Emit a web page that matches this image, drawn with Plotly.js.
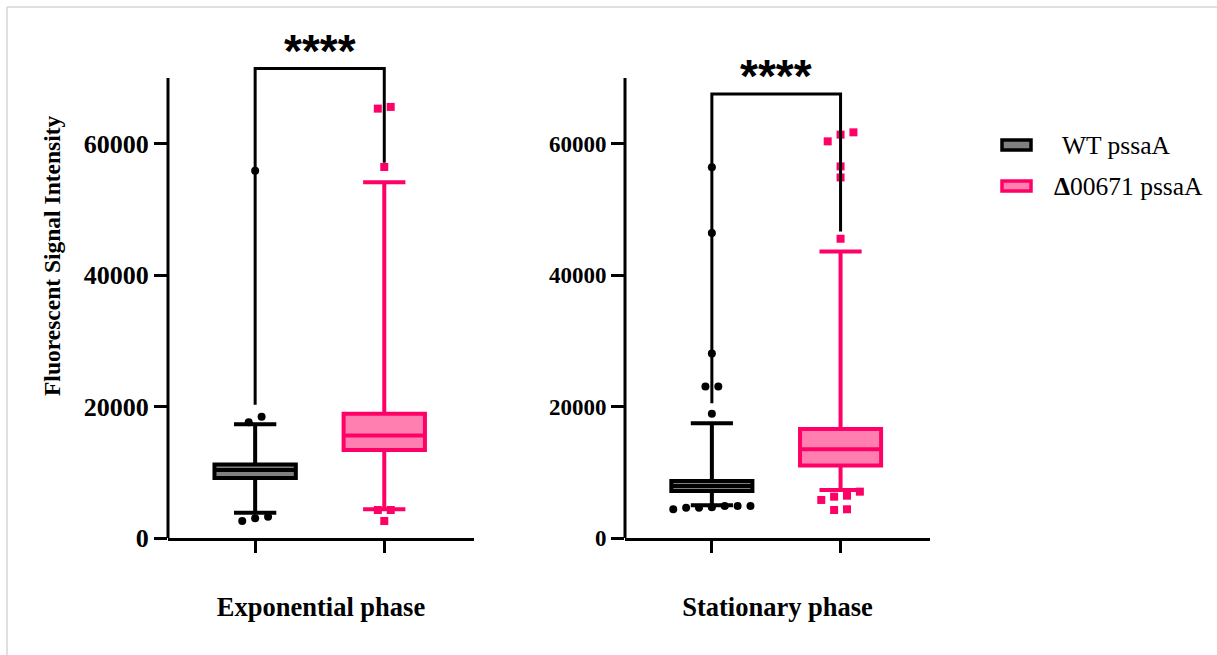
<!DOCTYPE html>
<html>
<head>
<meta charset="utf-8">
<script src="https://cdn.plot.ly/plotly-3.0.1.min.js"></script>
<style>html,body{margin:0;padding:0;background:#fff;}#chart{width:1217px;height:655px;}</style>
</head>
<body>
<div id="chart"></div>
<script>
// ---------- data ----------
const phases = ['Exponential phase', 'Stationary phase'];
const seriesNames = ['WT pssaA', 'Δ00671 pssaA'];
const seriesX = [0, 1];

// box statistics per phase: [WT, mutant]
const q1Exp = [9140, 13400];
const medianExp = [10360, 15580];
const q3Exp = [11190, 18890];
const lowerExp = [3850, 4370];
const upperExp = [17300, 54150];

const q1Stat = [7160, 11040];
const medianStat = [7900, 13510];
const q3Stat = [8680, 16600];
const lowerStat = [4980, 7310];
const upperStat = [17470, 43600];

// outliers
const outExpWT = [55900, 18470, 17600, 2590, 3240, 3000];
const outExpMut = [65340, 65600, 56460, 4260, 4260, 2590];
const outStatWT = [56400, 46400, 28070, 23040, 23040, 18890, 4680, 4870, 4620, 4870, 4370, 4870, 4620];
const outStatMut = [61380, 61730, 60360, 56550, 54870, 45540, 6290, 5790, 6440, 7050, 4260, 4370];

// significance brackets: [top, WT leg bottom, mutant leg bottom]
const bracketExp = [71430, 20260, 57100];
const bracketStat = [67580, 20510, 46650];
const sigLabel = '****';

// ---------- styles ----------
const lineCols = ['#000000', '#FF0066'];
const fillCols = ['#808080', '#FF80B0'];
const symbols = ['circle', 'square'];
const serif = 'Liberation Serif, Times New Roman, serif';

// simple beeswarm: points closer than `gap` (data units) share a row and are spread sideways
function swarm(values, centre, gap, step) {
  const idx = values.map((v, i) => i).sort((a, b) => values[a] - values[b]);
  const xs = new Array(values.length);
  let group = [];
  const flush = () => {
    const n = group.length;
    group.forEach((gi, j) => { xs[gi] = centre + (j - (n - 1) / 2) * step; });
    group = [];
  };
  idx.forEach((i, j) => {
    if (group.length && values[i] - values[group[group.length - 1]] > gap) flush();
    group.push(i);
  });
  flush();
  return xs;
}

const stats = [
  {q1: q1Exp, med: medianExp, q3: q3Exp, lo: lowerExp, hi: upperExp, out: [outExpWT, outExpMut], br: bracketExp},
  {q1: q1Stat, med: medianStat, q3: q3Stat, lo: lowerStat, hi: upperStat, out: [outStatWT, outStatMut], br: bracketStat}
];

const traces = [];
const shapes = [];
const annotations = [];

stats.forEach((s, p) => {
  const xa = p === 0 ? 'x' : 'x2';
  const ya = p === 0 ? 'y' : 'y2';
  for (let k = 0; k < 2; k++) {
    traces.push({
      type: 'box', xaxis: xa, yaxis: ya, name: seriesNames[k], showlegend: false,
      x: [seriesX[k]], q1: [s.q1[k]], median: [s.med[k]], q3: [s.q3[k]],
      lowerfence: [s.lo[k]], upperfence: [s.hi[k]],
      width: 0.63, whiskerwidth: 0.52, boxpoints: false,
      fillcolor: fillCols[k], line: {color: lineCols[k], width: 4}
    });
    traces.push({
      type: 'scatter', mode: 'markers', xaxis: xa, yaxis: ya, name: seriesNames[k] + ' outliers',
      showlegend: false, cliponaxis: false,
      x: swarm(s.out[k], seriesX[k], 1200, 0.1), y: s.out[k],
      marker: {color: lineCols[k], symbol: symbols[k], size: 8, line: {width: 0}}
    });
  }
  // y axis line (stops at 70000 like the reference)
  shapes.push({type: 'line', xref: xa + ' domain', x0: 0, x1: 0, yref: ya, y0: 0, y1: 70000,
    line: {color: '#000', width: 3}});
  // bracket
  shapes.push({type: 'path', xref: xa, yref: ya,
    path: `M ${seriesX[0]},${s.br[1]} L ${seriesX[0]},${s.br[0]} L ${seriesX[1]},${s.br[0]} L ${seriesX[1]},${s.br[2]}`,
    line: {color: '#000', width: 3}});
  annotations.push({xref: xa, yref: ya, x: (seriesX[0] + seriesX[1]) / 2, y: s.br[0], yshift: -10,
    text: sigLabel, showarrow: false, xanchor: 'center', yanchor: 'bottom',
    font: {family: 'Liberation Sans, Arial, sans-serif', size: 46, weight: 'bold', color: '#000'}});
});

// manual legend
const W = 1217, T = 32, B = 538, PH = B - T;
const py = px => (B - px) / PH;
const legendRows = [145, 186];
legendRows.forEach((row, k) => {
  shapes.push({type: 'rect', xref: 'paper', yref: 'paper',
    x0: 1002 / W, x1: 1031 / W, y0: py(row + 5), y1: py(row - 5),
    fillcolor: fillCols[k], line: {color: lineCols[k], width: 3.5}});
});
annotations.push({xref: 'paper', yref: 'paper', x: 1060 / W, y: py(145), xanchor: 'left', yanchor: 'middle',
  text: seriesNames[0], showarrow: false, font: {family: serif, size: 25.5, color: '#000'}});
annotations.push({xref: 'paper', yref: 'paper', x: 1052 / W, y: py(186), xanchor: 'left', yanchor: 'middle',
  text: '<b>Δ</b>' + seriesNames[1].slice(1), showarrow: false, font: {family: serif, size: 25.5, color: '#000'}});

// y title
annotations.push({xref: 'paper', yref: 'paper', x: 52 / W, y: py(256), xanchor: 'center', yanchor: 'middle',
  text: 'Fluorescent Signal Intensity', textangle: -90, showarrow: false,
  font: {family: serif, size: 23.5, weight: 'bold', color: '#000'}});

// frame lines
shapes.push({type: 'line', xref: 'paper', yref: 'paper', x0: 7 / W, x1: 7 / W, y0: py(7), y1: py(655),
  line: {color: '#d6d6d6', width: 1.5}});
shapes.push({type: 'line', xref: 'paper', yref: 'paper', x0: 7 / W, x1: 1, y0: py(7), y1: py(7),
  line: {color: '#d6d6d6', width: 1.5}});

function xAxis(domain, title) {
  return {domain: domain, range: [-0.675, 1.695], showline: true, linecolor: '#000', linewidth: 3,
    ticks: 'outside', tickvals: seriesX, ticklen: 12, tickwidth: 3, tickcolor: '#000',
    showticklabels: false, showgrid: false, zeroline: false, fixedrange: true,
    title: {text: title, standoff: 46, font: {family: serif, size: 26.5, weight: 'bold', color: '#000'}}};
}
function yAxis(anchor, size) {
  return {anchor: anchor, range: [0, 77000], showline: false, ticks: 'outside',
    tickvals: [0, 20000, 40000, 60000], ticktext: ['0', '20000', '40000', '60000'],
    ticklen: 13, tickwidth: 3, tickcolor: '#000', showgrid: false, zeroline: false,
    tickfont: {family: serif, size: size, weight: 'bold', color: '#000'}, fixedrange: true};
}

const layout = {
  width: 1217, height: 655,
  margin: {l: 0, r: 0, t: T, b: 655 - B},
  paper_bgcolor: '#fff', plot_bgcolor: 'rgba(0,0,0,0)',
  showlegend: false,
  xaxis: Object.assign(xAxis([168 / W, 474 / W], phases[0]), {anchor: 'y'}),
  yaxis: yAxis('x', 26),
  xaxis2: Object.assign(xAxis([625 / W, 930 / W], phases[1]), {anchor: 'y2'}),
  yaxis2: yAxis('x2', 23),
  shapes: shapes,
  annotations: annotations
};

Plotly.newPlot('chart', traces, layout, {displayModeBar: false, staticPlot: true});
</script>
</body>
</html>
